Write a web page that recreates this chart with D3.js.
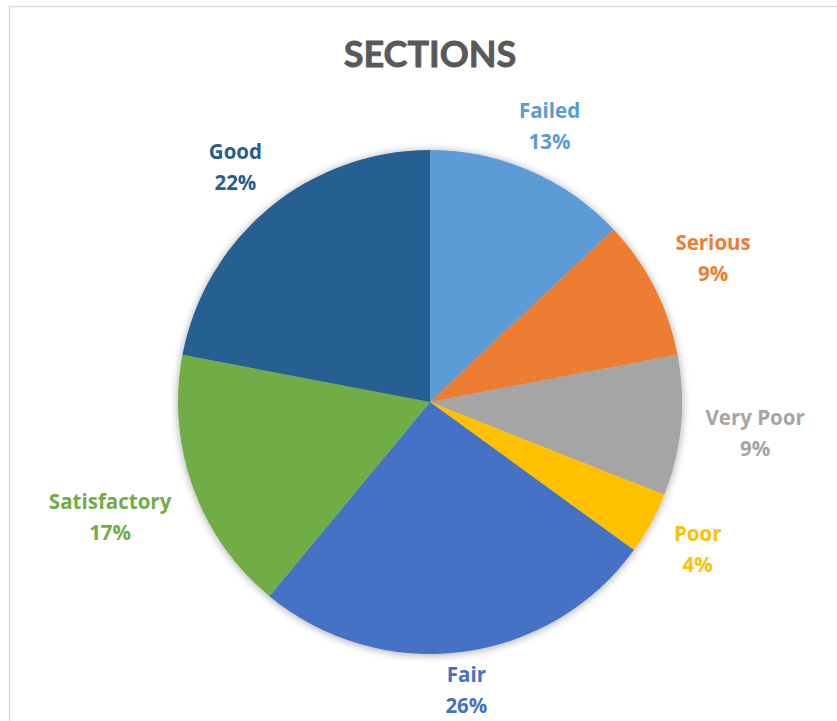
<!DOCTYPE html>
<html>
<head>
<meta charset="utf-8">
<script src="https://cdn.jsdelivr.net/npm/d3@7/dist/d3.min.js"></script>
<style>
  html, body { margin: 0; padding: 0; background: #fff; }
  svg { display: block; }
</style>
</head>
<body>
<svg id="chart" width="837" height="721"></svg>
<script>
// Condition categories and their share of sections (percent)
const categories = ["Failed", "Serious", "Very Poor", "Poor", "Fair", "Satisfactory", "Good"];
const shares = [13, 9, 9, 4, 26, 17, 22];
const colors = ["#5B9BD5", "#ED7D31", "#A5A5A5", "#FFC000", "#4472C4", "#70AD47", "#255E91"];
const title = "SECTIONS";

const W = 837, H = 721;
const cx = 430, cy = 402, R = 252;

const svg = d3.select("#chart");

// Chart frame
svg.append("rect")
  .attr("x", 9.5).attr("y", 6.5)
  .attr("width", W).attr("height", H)
  .attr("fill", "#fff")
  .attr("stroke", "#D9D9D9").attr("stroke-width", 1.5);

// Soft shadow under the pie
const defs = svg.append("defs");
const f = defs.append("filter").attr("id", "shadow")
  .attr("x", "-20%").attr("y", "-20%").attr("width", "140%").attr("height", "140%");
f.append("feGaussianBlur").attr("in", "SourceAlpha").attr("stdDeviation", 4).attr("result", "b");
f.append("feOffset").attr("in", "b").attr("dx", 0).attr("dy", 1).attr("result", "o");
f.append("feComponentTransfer").attr("in", "o").attr("result", "s")
  .append("feFuncA").attr("type", "linear").attr("slope", 0.35);
const m = f.append("feMerge");
m.append("feMergeNode").attr("in", "s");
m.append("feMergeNode").attr("in", "SourceGraphic");

// Title
svg.append("text")
  .attr("x", cx).attr("y", 67)
  .attr("text-anchor", "middle")
  .attr("font-family", "Lato, sans-serif")
  .attr("font-weight", "bold")
  .attr("font-size", 36)
  .attr("fill", "#595959")
  .attr("stroke", "#595959").attr("stroke-width", 0.8)
  .text(title);

const data = categories.map((c, i) => ({ name: c, value: shares[i], color: colors[i] }));

const pie = d3.pie().value(d => d.value).sort(null);
const arc = d3.arc().innerRadius(0).outerRadius(R);
const arcs = pie(data);

const g = svg.append("g").attr("transform", `translate(${cx},${cy})`);

g.append("g").attr("filter", "url(#shadow)")
  .selectAll("path")
  .data(arcs)
  .join("path")
  .attr("d", arc)
  .attr("fill", d => d.data.color);

// Data labels placed outside the pie, pushed out along each slice's mid-angle
const labels = g.append("g")
  .attr("font-family", "'Open Sans', sans-serif")
  .attr("font-weight", "bold")
  .attr("font-size", 20.5)
  .attr("text-anchor", "middle");

const lineGap = 31;
const halfInk = 23; // half the ink height of a two-line label

arcs.forEach(a => {
  const t = labels.append("text").attr("fill", a.data.color);
  t.append("tspan").attr("x", 0).attr("dy", 0).text(a.data.name);
  t.append("tspan").attr("x", 0).attr("dy", lineGap).text(a.data.value + "%");
  const bb = t.node().getBBox();
  const mid = (a.startAngle + a.endAngle) / 2;
  const sx = Math.sin(mid), sy = -Math.cos(mid);
  const gap = 11 + 12 * Math.abs(sx);
  const ext = Math.abs(sx) * bb.width / 2 + Math.abs(sy) * halfInk;
  const rr = R + gap + ext;
  const lx = sx * rr, ly = sy * rr;
  // ink spans from cap top of line 1 (~-15) to baseline of line 2 (lineGap)
  const inkMid = (lineGap - 15) / 2;
  const ox = lx - (bb.x + bb.width / 2);
  const oy = ly - inkMid;
  t.attr("transform", `translate(${ox},${oy})`);
});
</script>
</body>
</html>
